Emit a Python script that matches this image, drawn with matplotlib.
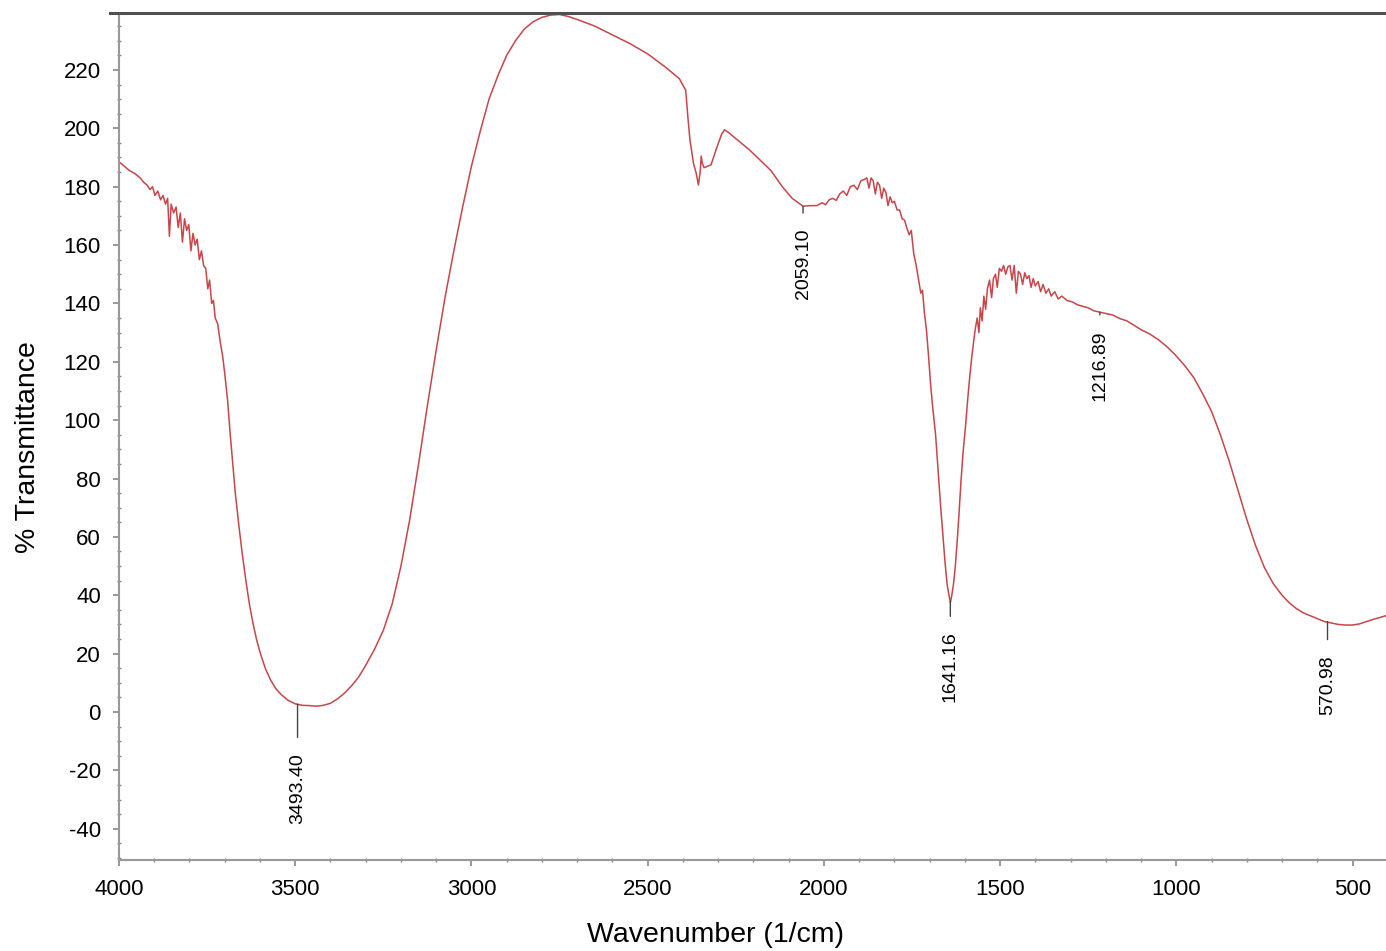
import matplotlib
matplotlib.use("Agg")
import matplotlib.pyplot as plt
from matplotlib.lines import Line2D
from matplotlib.ticker import MultipleLocator

plt.rcParams['font.family'] = ['Liberation Sans', 'DejaVu Sans']
plt.rcParams['axes.unicode_minus'] = False

# FTIR spectrum (wavenumber in 1/cm, % transmittance)
wavenumber = [
    4000, 3985, 3970, 3955, 3940, 3930, 3920, 3912, 3905, 3898, 3890, 3882, 3875, 3868,
    3862, 3857, 3852, 3845, 3838, 3832, 3826, 3820, 3814, 3808, 3802, 3796, 3790, 3784,
    3778, 3772, 3766, 3760, 3754, 3748, 3743, 3737, 3732, 3727, 3720, 3713, 3706, 3700,
    3692, 3685, 3678, 3670, 3660, 3650, 3640, 3630, 3620, 3610, 3600, 3585, 3570, 3555,
    3540, 3520, 3500, 3480, 3460, 3440, 3420, 3400, 3380, 3360, 3340, 3320, 3300, 3275,
    3250, 3225, 3200, 3175, 3150, 3125, 3100, 3075, 3050, 3025, 3000, 2975, 2950, 2925,
    2900, 2875, 2850, 2825, 2800, 2775, 2750, 2725, 2700, 2650, 2600, 2550, 2500, 2450,
    2410, 2392, 2386, 2380, 2370, 2362, 2356, 2351, 2348, 2345, 2340, 2330, 2320, 2305,
    2290, 2282, 2270, 2240, 2211, 2180, 2150, 2118, 2090, 2059, 2040, 2020, 2005, 1995,
    1985, 1975, 1965, 1955, 1945, 1935, 1925, 1915, 1905, 1895, 1885, 1878, 1872, 1866,
    1860, 1854, 1848, 1842, 1836, 1830, 1824, 1818, 1812, 1806, 1800, 1792, 1785, 1778,
    1771, 1765, 1758, 1752, 1745, 1738, 1731, 1725, 1720, 1715, 1709, 1703, 1697, 1690,
    1683, 1676, 1669, 1662, 1656, 1650, 1645, 1641, 1637, 1632, 1627, 1622, 1617, 1611,
    1605, 1598, 1592, 1586, 1580, 1575, 1570, 1565, 1560, 1556, 1551, 1546, 1541, 1536,
    1530, 1524, 1519, 1513, 1508, 1502, 1496, 1490, 1484, 1478, 1472, 1466, 1460, 1454,
    1448, 1442, 1436, 1430, 1424, 1418, 1412, 1406, 1400, 1392, 1385, 1378, 1370, 1362,
    1355, 1345, 1335, 1325, 1310, 1295, 1280, 1265, 1250, 1235, 1217, 1200, 1180, 1160,
    1140, 1120, 1100, 1075, 1050, 1025, 1000, 975, 950, 925, 900, 875, 850, 825,
    800, 775, 750, 725, 700, 680, 660, 640, 620, 600, 580, 560, 540, 520,
    500, 480, 460, 440, 420, 405,
]
transmittance = [
    188.5, 187, 185.5, 184.5, 183, 181.5, 180.5, 179, 180, 177, 178.5, 175.5, 177, 174,
    176, 163, 174, 171, 173, 166, 171, 161, 169, 165, 167, 158, 164, 160,
    162, 155, 158, 153, 152, 145, 148, 140, 141, 135, 133, 127, 122, 116,
    107, 96, 86, 75, 64, 54, 45, 37, 30.5, 25, 20.5, 15, 11, 8,
    6, 4, 2.8, 2.3, 2.2, 2, 2.3, 3, 4.5, 6.5, 9, 12, 16, 21.5,
    28, 37, 50, 66, 85, 105, 124, 142, 158, 173, 187, 199, 210, 218,
    225, 230, 234, 236.5, 238, 238.8, 239, 238.3, 237.3, 235, 232, 229, 225.5, 221,
    217, 213, 204, 196, 188, 184.5, 180.6, 185, 190.5, 188, 186.5, 187, 187.5, 193,
    198, 199.5, 198.5, 195.5, 192.6, 189, 185.5, 180, 176, 173.3, 173.5, 173.5, 174.5, 173.8,
    175.5, 176, 175.3, 177.5, 178.5, 177, 180, 180.5, 179, 182, 182.5, 183, 179.5, 183,
    182, 177.5, 181.5, 180.5, 176, 179.5, 178, 173.5, 176.5, 174.5, 175, 172, 172, 169,
    168.5, 166, 163.5, 165, 157, 153, 148, 143.5, 144.5, 137, 131, 122, 112, 103,
    95, 83, 71, 60, 51, 43.5, 40, 37.5, 40, 44, 50, 58, 67, 79,
    89, 98, 107, 115, 122, 127, 131.5, 135, 130, 138.5, 134, 142.5, 138, 145,
    148, 142, 148.5, 150, 145.5, 152, 151, 153, 150, 152.5, 153, 148, 153, 143.5,
    151, 150, 146.5, 150.5, 148.5, 149.5, 145.5, 148.5, 146, 147.5, 144, 146.5, 143.5, 145,
    142.5, 144, 141.5, 142.5, 141, 140.5, 139.5, 139, 138.5, 137.5, 137, 136.5, 136, 134.8,
    134, 132.5, 131, 129.5, 127.5, 125, 122, 118.5, 114.5, 109, 103, 95, 86, 76,
    66, 57, 49.5, 44, 40, 37.5, 35.5, 34, 33, 32, 31, 30.5, 30, 29.8,
    29.8, 30.2, 31, 31.8, 32.5, 33,
]

# labelled peaks
peak_wn = [3493.40, 2059.10, 1641.16, 1216.89, 570.98]
peak_T = [2.7, 173.3, 38.0, 137.0, 31.0]
peak_offset = [35, 16, 22, 13, 24]  # leader length, points

fig = plt.figure(figsize=(13.86, 9.51), dpi=100)
ax = fig.add_axes([119 / 1386, 1 - 860 / 951, 1 - 119 / 1386, (860 - 13) / 951])

ax.plot(wavenumber, transmittance, color='#c8454a', lw=1.1)

for wn, t, off in zip(peak_wn, peak_T, peak_offset):
    ax.annotate(f"{wn:.2f}", xy=(wn, t), xytext=(0, -off), textcoords='offset points',
                rotation=90, ha='center', va='top', fontsize=14, color='black',
                arrowprops=dict(arrowstyle='-', color='#444444', lw=1.0,
                                shrinkA=9, shrinkB=0))

ax.set_xlim(4000, 405)
ax.set_ylim(-50.7, 239.5)

ax.xaxis.set_major_locator(MultipleLocator(500))
ax.xaxis.set_minor_locator(MultipleLocator(100))
ax.set_yticks(range(-40, 221, 20))
ax.yaxis.set_minor_locator(MultipleLocator(5))

ax.tick_params(axis='both', which='major', direction='out', length=4, width=1.2,
               color='#888888', labelsize=16, labelcolor='black')
ax.tick_params(axis='both', which='minor', direction='inout', length=3, width=1.0,
               color='#888888')
ax.tick_params(axis='y', pad=9)
ax.tick_params(axis='x', pad=10)

for side in ['left', 'bottom']:
    ax.spines[side].set_color('#999999')
    ax.spines[side].set_linewidth(1.5)
ax.spines['right'].set_visible(False)
ax.spines['top'].set_visible(False)

# dark frame line along the top
fig.add_artist(Line2D([110 / 1386, 1], [1 - 13 / 951, 1 - 13 / 951],
                      color='#505050', lw=2.2, transform=fig.transFigure))

fig.text(715 / 1386, 1 - 935 / 951, 'Wavenumber (1/cm)', ha='center', va='center',
         fontsize=20.5)
fig.text(28 / 1386, 1 - 447 / 951, '% Transmittance', ha='center', va='center',
         rotation=90, fontsize=20.5)

fig.savefig('out.png', dpi=100)
